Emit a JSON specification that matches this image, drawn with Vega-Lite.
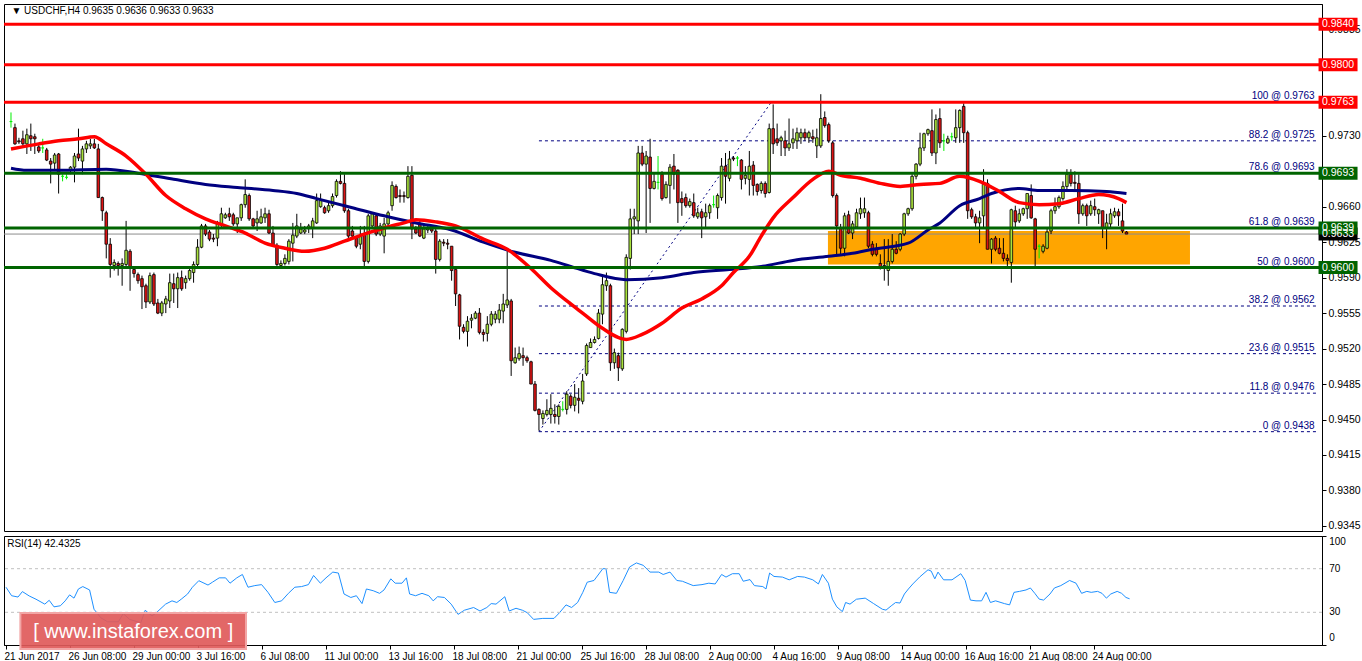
{
"$schema":"https://vega.github.io/schema/vega-lite/v6.json",
"padding":{"left":2,"top":3,"right":0,"bottom":0},
"background":"white",
"spacing":3,
"config":{"view":{"stroke":"black","strokeWidth":1},"axis":{"labelFont":"Liberation Sans","labelFontSize":10,"labelColor":"#000000","domainColor":"#000000","tickColor":"#000000","grid":false,"title":null,"labelOverlap":false},"text":{"font":"Liberation Sans"}},
"datasets":{
"candles":[
{"i":0,"o":0.9744,"h":0.9753,"l":0.9738,"c":0.9744},{"i":1,"o":0.9738,"h":0.9742,"l":0.9721,"c":0.9722},{"i":2,"o":0.9725,"h":0.9728,"l":0.9722,"c":0.9724},{"i":3,"o":0.9727,"h":0.9735,"l":0.972,"c":0.9722},{"i":4,"o":0.9722,"h":0.9737,"l":0.9712,"c":0.9731},{"i":5,"o":0.973,"h":0.9742,"l":0.9715,"c":0.9727},{"i":6,"o":0.9729,"h":0.9732,"l":0.9712,"c":0.9727},{"i":7,"o":0.9719,"h":0.9722,"l":0.9713,"c":0.9715},{"i":8,"o":0.9718,"h":0.9727,"l":0.9713,"c":0.9718},{"i":9,"o":0.9716,"h":0.9718,"l":0.9705,"c":0.9706},
{"i":10,"o":0.9705,"h":0.9708,"l":0.9683,"c":0.9702},{"i":11,"o":0.9703,"h":0.9713,"l":0.9697,"c":0.9711},{"i":12,"o":0.9712,"h":0.9713,"l":0.9673,"c":0.9692},{"i":13,"o":0.969,"h":0.9692,"l":0.9685,"c":0.969},{"i":14,"o":0.9689,"h":0.9692,"l":0.9687,"c":0.9689},{"i":15,"o":0.9696,"h":0.97,"l":0.9692,"c":0.9699},{"i":16,"o":0.9699,"h":0.9713,"l":0.9684,"c":0.971},{"i":17,"o":0.9712,"h":0.9737,"l":0.9705,"c":0.9708},{"i":18,"o":0.9705,"h":0.972,"l":0.9692,"c":0.9717},{"i":19,"o":0.9717,"h":0.9725,"l":0.9713,"c":0.9722},
{"i":20,"o":0.972,"h":0.9727,"l":0.9717,"c":0.9722},{"i":21,"o":0.9722,"h":0.9727,"l":0.9717,"c":0.9718},{"i":22,"o":0.9717,"h":0.9722,"l":0.9669,"c":0.9669},{"i":23,"o":0.9669,"h":0.967,"l":0.9646,"c":0.9656},{"i":24,"o":0.9654,"h":0.9656,"l":0.9609,"c":0.9623},{"i":25,"o":0.9623,"h":0.9629,"l":0.959,"c":0.9603},{"i":26,"o":0.9602,"h":0.9608,"l":0.9597,"c":0.9605},{"i":27,"o":0.9604,"h":0.9606,"l":0.9592,"c":0.9602},{"i":28,"o":0.9602,"h":0.9609,"l":0.9582,"c":0.9604},{"i":29,"o":0.9603,"h":0.9646,"l":0.9599,"c":0.9617},
{"i":30,"o":0.9616,"h":0.9618,"l":0.9577,"c":0.9599},{"i":31,"o":0.9598,"h":0.9599,"l":0.959,"c":0.9594},{"i":32,"o":0.9593,"h":0.9595,"l":0.9584,"c":0.9587},{"i":33,"o":0.9589,"h":0.9592,"l":0.9559,"c":0.9581},{"i":34,"o":0.9582,"h":0.9584,"l":0.956,"c":0.9566},{"i":35,"o":0.9566,"h":0.9595,"l":0.9564,"c":0.9592},{"i":36,"o":0.9593,"h":0.9595,"l":0.9562,"c":0.9564},{"i":37,"o":0.9565,"h":0.9569,"l":0.9554,"c":0.9555},{"i":38,"o":0.9555,"h":0.9567,"l":0.9552,"c":0.9565},{"i":39,"o":0.9564,"h":0.9572,"l":0.9555,"c":0.9569},
{"i":40,"o":0.9567,"h":0.9594,"l":0.956,"c":0.9585},{"i":41,"o":0.9584,"h":0.9594,"l":0.9565,"c":0.9579},{"i":42,"o":0.9579,"h":0.9595,"l":0.956,"c":0.959},{"i":43,"o":0.959,"h":0.9597,"l":0.9577,"c":0.9579},{"i":44,"o":0.9585,"h":0.9592,"l":0.9579,"c":0.9589},{"i":45,"o":0.9589,"h":0.9599,"l":0.9587,"c":0.9597},{"i":46,"o":0.9595,"h":0.9606,"l":0.9585,"c":0.9603},{"i":47,"o":0.9603,"h":0.9628,"l":0.9599,"c":0.962},{"i":48,"o":0.962,"h":0.9643,"l":0.9619,"c":0.9641},{"i":49,"o":0.9641,"h":0.9643,"l":0.9631,"c":0.9633},
{"i":50,"o":0.9635,"h":0.9637,"l":0.9626,"c":0.9628},{"i":51,"o":0.9629,"h":0.9633,"l":0.9625,"c":0.9628},{"i":52,"o":0.9629,"h":0.9646,"l":0.9621,"c":0.9643},{"i":53,"o":0.9643,"h":0.9659,"l":0.9639,"c":0.9653},{"i":54,"o":0.9649,"h":0.9654,"l":0.9648,"c":0.9652},{"i":55,"o":0.9653,"h":0.9659,"l":0.9646,"c":0.965},{"i":56,"o":0.9652,"h":0.9654,"l":0.9641,"c":0.9643},{"i":57,"o":0.9643,"h":0.9649,"l":0.9634,"c":0.9649},{"i":58,"o":0.9649,"h":0.9663,"l":0.9646,"c":0.9662},{"i":59,"o":0.9662,"h":0.9687,"l":0.9659,"c":0.9672},
{"i":60,"o":0.9671,"h":0.9673,"l":0.9646,"c":0.9648},{"i":61,"o":0.9648,"h":0.9649,"l":0.9638,"c":0.9641},{"i":62,"o":0.9644,"h":0.9656,"l":0.9636,"c":0.9648},{"i":63,"o":0.9644,"h":0.9658,"l":0.9643,"c":0.965},{"i":64,"o":0.9649,"h":0.9659,"l":0.9644,"c":0.9653},{"i":65,"o":0.9653,"h":0.9657,"l":0.9633,"c":0.9634},{"i":66,"o":0.9634,"h":0.9641,"l":0.9621,"c":0.9622},{"i":67,"o":0.9622,"h":0.9624,"l":0.9601,"c":0.9603},{"i":68,"o":0.9602,"h":0.9607,"l":0.9601,"c":0.9604},{"i":69,"o":0.9604,"h":0.9613,"l":0.9602,"c":0.9609},
{"i":70,"o":0.9606,"h":0.9628,"l":0.9603,"c":0.9626},{"i":71,"o":0.9624,"h":0.9644,"l":0.9606,"c":0.9632},{"i":72,"o":0.9631,"h":0.9653,"l":0.9629,"c":0.9641},{"i":73,"o":0.9634,"h":0.9644,"l":0.9633,"c":0.9638},{"i":74,"o":0.9635,"h":0.9641,"l":0.9633,"c":0.9637},{"i":75,"o":0.9639,"h":0.9643,"l":0.9634,"c":0.9641},{"i":76,"o":0.9639,"h":0.9649,"l":0.9629,"c":0.9646},{"i":77,"o":0.9644,"h":0.9673,"l":0.9643,"c":0.9666},{"i":78,"o":0.966,"h":0.9673,"l":0.9659,"c":0.9666},{"i":79,"o":0.9659,"h":0.9661,"l":0.9653,"c":0.9654},
{"i":80,"o":0.9656,"h":0.9664,"l":0.9654,"c":0.9661},{"i":81,"o":0.9661,"h":0.9673,"l":0.9659,"c":0.967},{"i":82,"o":0.9671,"h":0.9687,"l":0.9669,"c":0.9685},{"i":83,"o":0.9685,"h":0.9695,"l":0.9682,"c":0.9683},{"i":84,"o":0.9683,"h":0.9692,"l":0.9654,"c":0.9656},{"i":85,"o":0.9656,"h":0.9658,"l":0.9628,"c":0.9631},{"i":86,"o":0.9636,"h":0.9641,"l":0.9629,"c":0.9631},{"i":87,"o":0.9629,"h":0.9631,"l":0.9619,"c":0.9621},{"i":88,"o":0.9623,"h":0.9641,"l":0.9618,"c":0.9631},{"i":89,"o":0.9633,"h":0.9641,"l":0.9601,"c":0.9606},
{"i":90,"o":0.9606,"h":0.9653,"l":0.9604,"c":0.9651},{"i":91,"o":0.9641,"h":0.9654,"l":0.9639,"c":0.9653},{"i":92,"o":0.9651,"h":0.9653,"l":0.9631,"c":0.9633},{"i":93,"o":0.9633,"h":0.9644,"l":0.9631,"c":0.9641},{"i":94,"o":0.9631,"h":0.9649,"l":0.9614,"c":0.9643},{"i":95,"o":0.9643,"h":0.9656,"l":0.9639,"c":0.9654},{"i":96,"o":0.9661,"h":0.9685,"l":0.9656,"c":0.9681},{"i":97,"o":0.968,"h":0.9682,"l":0.9668,"c":0.9669},{"i":98,"o":0.9671,"h":0.9677,"l":0.9664,"c":0.967},{"i":99,"o":0.9671,"h":0.9675,"l":0.9664,"c":0.967},
{"i":100,"o":0.9669,"h":0.97,"l":0.9668,"c":0.969},{"i":101,"o":0.9691,"h":0.97,"l":0.9628,"c":0.9638},{"i":102,"o":0.9638,"h":0.9641,"l":0.9633,"c":0.9634},{"i":103,"o":0.9643,"h":0.9646,"l":0.963,"c":0.9631},{"i":104,"o":0.9629,"h":0.9641,"l":0.9628,"c":0.9638},{"i":105,"o":0.9637,"h":0.9641,"l":0.9634,"c":0.9638},{"i":106,"o":0.9638,"h":0.9641,"l":0.9634,"c":0.9636},{"i":107,"o":0.9636,"h":0.9639,"l":0.9594,"c":0.9608},{"i":108,"o":0.9608,"h":0.9628,"l":0.9606,"c":0.9626},{"i":109,"o":0.9625,"h":0.9628,"l":0.9621,"c":0.9624},
{"i":110,"o":0.9624,"h":0.9628,"l":0.9618,"c":0.9623},{"i":111,"o":0.9621,"h":0.9621,"l":0.9587,"c":0.9597},{"i":112,"o":0.9598,"h":0.9598,"l":0.9562,"c":0.9574},{"i":113,"o":0.9573,"h":0.9574,"l":0.9529,"c":0.9542},{"i":114,"o":0.9541,"h":0.9544,"l":0.9535,"c":0.9537},{"i":115,"o":0.9537,"h":0.9552,"l":0.9522,"c":0.9547},{"i":116,"o":0.9548,"h":0.9554,"l":0.954,"c":0.955},{"i":117,"o":0.955,"h":0.9557,"l":0.9549,"c":0.9555},{"i":118,"o":0.9555,"h":0.956,"l":0.9534,"c":0.9536},{"i":119,"o":0.9536,"h":0.9539,"l":0.9527,"c":0.9534},
{"i":120,"o":0.9535,"h":0.9552,"l":0.9527,"c":0.9544},{"i":121,"o":0.9544,"h":0.9557,"l":0.9542,"c":0.9554},{"i":122,"o":0.9549,"h":0.9557,"l":0.9545,"c":0.9554},{"i":123,"o":0.9549,"h":0.9564,"l":0.9545,"c":0.9558},{"i":124,"o":0.9557,"h":0.9574,"l":0.9545,"c":0.9564},{"i":125,"o":0.9563,"h":0.9616,"l":0.956,"c":0.9568},{"i":126,"o":0.9567,"h":0.9569,"l":0.9493,"c":0.9508},{"i":127,"o":0.9506,"h":0.9521,"l":0.9505,"c":0.9511},{"i":128,"o":0.951,"h":0.9522,"l":0.9508,"c":0.9515},{"i":129,"o":0.9513,"h":0.9521,"l":0.9503,"c":0.9511},
{"i":130,"o":0.9511,"h":0.9513,"l":0.9506,"c":0.9508},{"i":131,"o":0.9507,"h":0.9508,"l":0.9485,"c":0.9485},{"i":132,"o":0.9485,"h":0.9488,"l":0.9458,"c":0.9459},{"i":133,"o":0.946,"h":0.9461,"l":0.9439,"c":0.9455},{"i":134,"o":0.9451,"h":0.9459,"l":0.9445,"c":0.9456},{"i":135,"o":0.9455,"h":0.947,"l":0.9453,"c":0.9459},{"i":136,"o":0.9455,"h":0.9475,"l":0.9446,"c":0.9461},{"i":137,"o":0.9455,"h":0.9465,"l":0.9446,"c":0.9453},{"i":138,"o":0.9453,"h":0.9465,"l":0.9445,"c":0.9463},{"i":139,"o":0.946,"h":0.9468,"l":0.9458,"c":0.946},
{"i":140,"o":0.946,"h":0.9478,"l":0.9455,"c":0.9475},{"i":141,"o":0.9473,"h":0.9475,"l":0.9461,"c":0.9464},{"i":142,"o":0.9464,"h":0.9485,"l":0.9458,"c":0.9472},{"i":143,"o":0.9471,"h":0.9481,"l":0.9456,"c":0.9469},{"i":144,"o":0.9468,"h":0.9495,"l":0.9465,"c":0.9488},{"i":145,"o":0.9495,"h":0.9525,"l":0.9493,"c":0.9523},{"i":146,"o":0.9521,"h":0.953,"l":0.9521,"c":0.9526},{"i":147,"o":0.9526,"h":0.9532,"l":0.9525,"c":0.9529},{"i":148,"o":0.953,"h":0.9559,"l":0.9529,"c":0.9555},{"i":149,"o":0.9554,"h":0.9592,"l":0.9544,"c":0.9583},
{"i":150,"o":0.9582,"h":0.9595,"l":0.9577,"c":0.9587},{"i":151,"o":0.9582,"h":0.9584,"l":0.9498,"c":0.9506},{"i":152,"o":0.9506,"h":0.952,"l":0.95,"c":0.9516},{"i":153,"o":0.9513,"h":0.9516,"l":0.9488,"c":0.9501},{"i":154,"o":0.95,"h":0.954,"l":0.9498,"c":0.9539},{"i":155,"o":0.9537,"h":0.9613,"l":0.9535,"c":0.961},{"i":156,"o":0.9609,"h":0.9658,"l":0.9598,"c":0.9648},{"i":157,"o":0.9648,"h":0.9658,"l":0.9633,"c":0.965},{"i":158,"o":0.9646,"h":0.972,"l":0.9633,"c":0.9713},{"i":159,"o":0.9713,"h":0.972,"l":0.97,"c":0.9702},
{"i":160,"o":0.9702,"h":0.9715,"l":0.9634,"c":0.971},{"i":161,"o":0.9709,"h":0.9727,"l":0.9644,"c":0.9678},{"i":162,"o":0.9678,"h":0.9693,"l":0.9677,"c":0.9685},{"i":163,"o":0.9684,"h":0.971,"l":0.9677,"c":0.9684},{"i":164,"o":0.9692,"h":0.9695,"l":0.9666,"c":0.9668},{"i":165,"o":0.9669,"h":0.9685,"l":0.9668,"c":0.9682},{"i":166,"o":0.9681,"h":0.9702,"l":0.9663,"c":0.9699},{"i":167,"o":0.97,"h":0.9712,"l":0.9677,"c":0.9692},{"i":168,"o":0.9696,"h":0.9697,"l":0.9644,"c":0.9664},{"i":169,"o":0.9668,"h":0.9675,"l":0.9651,"c":0.9664},
{"i":170,"o":0.9669,"h":0.9673,"l":0.9659,"c":0.9661},{"i":171,"o":0.9661,"h":0.9668,"l":0.9659,"c":0.9665},{"i":172,"o":0.9664,"h":0.9673,"l":0.9649,"c":0.9651},{"i":173,"o":0.965,"h":0.9659,"l":0.9648,"c":0.9654},{"i":174,"o":0.9655,"h":0.9658,"l":0.9629,"c":0.9649},{"i":175,"o":0.965,"h":0.9663,"l":0.9639,"c":0.9654},{"i":176,"o":0.9654,"h":0.9663,"l":0.9648,"c":0.9661},{"i":177,"o":0.9662,"h":0.9671,"l":0.9659,"c":0.9662},{"i":178,"o":0.9659,"h":0.9673,"l":0.9648,"c":0.9671},{"i":179,"o":0.9669,"h":0.9708,"l":0.9666,"c":0.97},
{"i":180,"o":0.97,"h":0.9713,"l":0.9663,"c":0.969},{"i":181,"o":0.9688,"h":0.9715,"l":0.9685,"c":0.9707},{"i":182,"o":0.9708,"h":0.971,"l":0.9705,"c":0.9707},{"i":183,"o":0.9708,"h":0.971,"l":0.97,"c":0.9708},{"i":184,"o":0.9706,"h":0.9707,"l":0.9677,"c":0.9687},{"i":185,"o":0.9688,"h":0.97,"l":0.9682,"c":0.9691},{"i":186,"o":0.9687,"h":0.9715,"l":0.9671,"c":0.97},{"i":187,"o":0.9701,"h":0.9705,"l":0.9671,"c":0.9681},{"i":188,"o":0.9682,"h":0.9683,"l":0.9671,"c":0.9675},{"i":189,"o":0.9676,"h":0.9685,"l":0.9673,"c":0.9683},
{"i":190,"o":0.9683,"h":0.9685,"l":0.9669,"c":0.9673},{"i":191,"o":0.9674,"h":0.9742,"l":0.9673,"c":0.9737},{"i":192,"o":0.9737,"h":0.9761,"l":0.9712,"c":0.9722},{"i":193,"o":0.9727,"h":0.9742,"l":0.972,"c":0.9723},{"i":194,"o":0.9725,"h":0.973,"l":0.971,"c":0.9728},{"i":195,"o":0.9725,"h":0.9735,"l":0.971,"c":0.9718},{"i":196,"o":0.9718,"h":0.9747,"l":0.9715,"c":0.9722},{"i":197,"o":0.9723,"h":0.9737,"l":0.9717,"c":0.9727},{"i":198,"o":0.9725,"h":0.9738,"l":0.9717,"c":0.9733},{"i":199,"o":0.9728,"h":0.9737,"l":0.9722,"c":0.9733},
{"i":200,"o":0.9733,"h":0.9737,"l":0.9725,"c":0.9728},{"i":201,"o":0.9728,"h":0.9735,"l":0.9723,"c":0.9733},{"i":202,"o":0.9729,"h":0.9736,"l":0.9723,"c":0.9727},{"i":203,"o":0.972,"h":0.9737,"l":0.9708,"c":0.9728},{"i":204,"o":0.972,"h":0.9771,"l":0.9718,"c":0.9747},{"i":205,"o":0.9748,"h":0.9754,"l":0.9738,"c":0.974},{"i":206,"o":0.9741,"h":0.9743,"l":0.9723,"c":0.9725},{"i":207,"o":0.9723,"h":0.9725,"l":0.9669,"c":0.9671},{"i":208,"o":0.9671,"h":0.9673,"l":0.9611,"c":0.9641},{"i":209,"o":0.9639,"h":0.9643,"l":0.9613,"c":0.9619},
{"i":210,"o":0.9619,"h":0.9654,"l":0.9611,"c":0.9651},{"i":211,"o":0.9652,"h":0.9656,"l":0.9633,"c":0.9634},{"i":212,"o":0.9634,"h":0.9646,"l":0.9628,"c":0.9643},{"i":213,"o":0.964,"h":0.9658,"l":0.9638,"c":0.9654},{"i":214,"o":0.9653,"h":0.9669,"l":0.9648,"c":0.9658},{"i":215,"o":0.9654,"h":0.9669,"l":0.9649,"c":0.9658},{"i":216,"o":0.9654,"h":0.9656,"l":0.9619,"c":0.9621},{"i":217,"o":0.9623,"h":0.9626,"l":0.9611,"c":0.9613},{"i":218,"o":0.9619,"h":0.9624,"l":0.9611,"c":0.9613},{"i":219,"o":0.9604,"h":0.9613,"l":0.9598,"c":0.9601},
{"i":220,"o":0.9602,"h":0.9628,"l":0.9587,"c":0.96},{"i":221,"o":0.9597,"h":0.9628,"l":0.9582,"c":0.9606},{"i":222,"o":0.9606,"h":0.9633,"l":0.9604,"c":0.9618},{"i":223,"o":0.9618,"h":0.9626,"l":0.9613,"c":0.9614},{"i":224,"o":0.9618,"h":0.9634,"l":0.9616,"c":0.9633},{"i":225,"o":0.9633,"h":0.9654,"l":0.9631,"c":0.9653},{"i":226,"o":0.9653,"h":0.9659,"l":0.9651,"c":0.9658},{"i":227,"o":0.9658,"h":0.9692,"l":0.9656,"c":0.969},{"i":228,"o":0.969,"h":0.9703,"l":0.9687,"c":0.9702},{"i":229,"o":0.9702,"h":0.9733,"l":0.97,"c":0.9718},
{"i":230,"o":0.9718,"h":0.9733,"l":0.9715,"c":0.9732},{"i":231,"o":0.9732,"h":0.9737,"l":0.973,"c":0.9736},{"i":232,"o":0.9735,"h":0.9756,"l":0.971,"c":0.9713},{"i":233,"o":0.9713,"h":0.9751,"l":0.9702,"c":0.9746},{"i":234,"o":0.9747,"h":0.9757,"l":0.9718,"c":0.9723},{"i":235,"o":0.9725,"h":0.9732,"l":0.9715,"c":0.9725},{"i":236,"o":0.9723,"h":0.973,"l":0.9722,"c":0.9727},{"i":237,"o":0.9729,"h":0.9733,"l":0.9725,"c":0.9729},{"i":238,"o":0.9728,"h":0.9756,"l":0.9723,"c":0.9738},{"i":239,"o":0.9738,"h":0.9756,"l":0.9723,"c":0.9755},
{"i":240,"o":0.9759,"h":0.9762,"l":0.9723,"c":0.9733},{"i":241,"o":0.9733,"h":0.9735,"l":0.9648,"c":0.9656},{"i":242,"o":0.9657,"h":0.9659,"l":0.9648,"c":0.965},{"i":243,"o":0.965,"h":0.9653,"l":0.9639,"c":0.9644},{"i":244,"o":0.9644,"h":0.9656,"l":0.9624,"c":0.9649},{"i":245,"o":0.9651,"h":0.9697,"l":0.9639,"c":0.9682},{"i":246,"o":0.9683,"h":0.9687,"l":0.9618,"c":0.9618},{"i":247,"o":0.9618,"h":0.9629,"l":0.9604,"c":0.9628},{"i":248,"o":0.9629,"h":0.9631,"l":0.9616,"c":0.9618},{"i":249,"o":0.9619,"h":0.9629,"l":0.9613,"c":0.9614},
{"i":250,"o":0.9614,"h":0.9629,"l":0.9606,"c":0.9609},{"i":251,"o":0.9609,"h":0.9613,"l":0.9601,"c":0.9607},{"i":252,"o":0.9605,"h":0.9658,"l":0.9585,"c":0.9657},{"i":253,"o":0.9656,"h":0.9661,"l":0.9639,"c":0.9645},{"i":254,"o":0.9646,"h":0.9658,"l":0.9644,"c":0.9653},{"i":255,"o":0.9653,"h":0.9659,"l":0.9651,"c":0.9658},{"i":256,"o":0.9658,"h":0.9673,"l":0.9648,"c":0.9673},{"i":257,"o":0.9671,"h":0.9682,"l":0.9648,"c":0.9649},{"i":258,"o":0.9648,"h":0.9649,"l":0.9601,"c":0.9618},{"i":259,"o":0.9621,"h":0.9623,"l":0.9609,"c":0.9621},
{"i":260,"o":0.9616,"h":0.9623,"l":0.9614,"c":0.9621},{"i":261,"o":0.9619,"h":0.9638,"l":0.9618,"c":0.9635},{"i":262,"o":0.9636,"h":0.9658,"l":0.9633,"c":0.9656},{"i":263,"o":0.9656,"h":0.9669,"l":0.9653,"c":0.966},{"i":264,"o":0.966,"h":0.9671,"l":0.9658,"c":0.9669},{"i":265,"o":0.9668,"h":0.9685,"l":0.9666,"c":0.968},{"i":266,"o":0.968,"h":0.9697,"l":0.9677,"c":0.9692},{"i":267,"o":0.9692,"h":0.9697,"l":0.968,"c":0.9683},{"i":268,"o":0.9684,"h":0.9695,"l":0.9675,"c":0.9683},{"i":269,"o":0.9683,"h":0.9692,"l":0.9643,"c":0.9653},
{"i":270,"o":0.9653,"h":0.9663,"l":0.9651,"c":0.9661},{"i":271,"o":0.9661,"h":0.9663,"l":0.9641,"c":0.9651},{"i":272,"o":0.9653,"h":0.9666,"l":0.9651,"c":0.9661},{"i":273,"o":0.966,"h":0.9668,"l":0.9651,"c":0.9657},{"i":274,"o":0.9653,"h":0.9658,"l":0.9643,"c":0.9657},{"i":275,"o":0.9656,"h":0.9656,"l":0.9629,"c":0.9639},{"i":276,"o":0.9639,"h":0.9653,"l":0.9618,"c":0.9644},{"i":277,"o":0.9643,"h":0.9658,"l":0.9639,"c":0.9653},{"i":278,"o":0.9651,"h":0.9659,"l":0.9649,"c":0.9655},{"i":279,"o":0.9655,"h":0.9658,"l":0.9641,"c":0.9651},
{"i":280,"o":0.9646,"h":0.9663,"l":0.9634,"c":0.9636},{"i":281,"o":0.9635,"h":0.9636,"l":0.9633,"c":0.9633}
],
"ma":[
{"s":"fast","i":0,"v":0.9717},{"s":"fast","i":7,"v":0.9722},{"s":"fast","i":12,"v":0.9725},{"s":"fast","i":17,"v":0.9727},{"s":"fast","i":21,"v":0.9729},{"s":"fast","i":24,"v":0.9722},{"s":"fast","i":29,"v":0.971},{"s":"fast","i":34,"v":0.9692},{"s":"fast","i":39,"v":0.9671},{"s":"fast","i":44,"v":0.9658},{"s":"fast","i":49,"v":0.9648},{"s":"fast","i":54,"v":0.9641},{"s":"fast","i":59,"v":0.9634},{"s":"fast","i":64,"v":0.9624},{"s":"fast","i":69,"v":0.9619},{"s":"fast","i":74,"v":0.9616},{"s":"fast","i":79,"v":0.9619},{"s":"fast","i":84,"v":0.9626},{"s":"fast","i":89,"v":0.9633},{"s":"fast","i":94,"v":0.9639},{"s":"fast","i":99,"v":0.9644},{"s":"fast","i":102,"v":0.9647},{"s":"fast","i":107,"v":0.9645},{"s":"fast","i":112,"v":0.9641},{"s":"fast","i":119,"v":0.9628},{"s":"fast","i":125,"v":0.9618},{"s":"fast","i":131,"v":0.9599},{"s":"fast","i":136,"v":0.958},{"s":"fast","i":141,"v":0.9564},{"s":"fast","i":144,"v":0.9555},{"s":"fast","i":149,"v":0.954},{"s":"fast","i":155,"v":0.9529},{"s":"fast","i":159,"v":0.9534},{"s":"fast","i":164,"v":0.9545},{"s":"fast","i":169,"v":0.956},{"s":"fast","i":174,"v":0.9569},{"s":"fast","i":179,"v":0.9582},{"s":"fast","i":182,"v":0.9595},{"s":"fast","i":186,"v":0.9611},{"s":"fast","i":189,"v":0.9631},{"s":"fast","i":192,"v":0.9649},{"s":"fast","i":197,"v":0.9669},{"s":"fast","i":202,"v":0.9687},{"s":"fast","i":206,"v":0.9695},{"s":"fast","i":209,"v":0.9691},{"s":"fast","i":214,"v":0.9688},{"s":"fast","i":219,"v":0.9683},{"s":"fast","i":224,"v":0.968},{"s":"fast","i":229,"v":0.9682},{"s":"fast","i":234,"v":0.9683},{"s":"fast","i":239,"v":0.969},{"s":"fast","i":244,"v":0.9685},{"s":"fast","i":249,"v":0.9675},{"s":"fast","i":254,"v":0.9664},{"s":"fast","i":259,"v":0.9662},{"s":"fast","i":264,"v":0.9663},{"s":"fast","i":269,"v":0.9668},{"s":"fast","i":274,"v":0.9672},{"s":"fast","i":279,"v":0.9668},{"s":"fast","i":281,"v":0.9664},
{"s":"slow","i":0,"v":0.9698},{"s":"slow","i":4,"v":0.9696},{"s":"slow","i":12,"v":0.9696},{"s":"slow","i":24,"v":0.9697},{"s":"slow","i":32,"v":0.9693},{"s":"slow","i":41,"v":0.9687},{"s":"slow","i":49,"v":0.9682},{"s":"slow","i":57,"v":0.9679},{"s":"slow","i":66,"v":0.9676},{"s":"slow","i":72,"v":0.9673},{"s":"slow","i":77,"v":0.9668},{"s":"slow","i":86,"v":0.9659},{"s":"slow","i":94,"v":0.9651},{"s":"slow","i":102,"v":0.9644},{"s":"slow","i":111,"v":0.9637},{"s":"slow","i":119,"v":0.9625},{"s":"slow","i":127,"v":0.9615},{"s":"slow","i":136,"v":0.9607},{"s":"slow","i":141,"v":0.9601},{"s":"slow","i":147,"v":0.9594},{"s":"slow","i":155,"v":0.9588},{"s":"slow","i":164,"v":0.959},{"s":"slow","i":172,"v":0.9595},{"s":"slow","i":181,"v":0.9598},{"s":"slow","i":189,"v":0.9601},{"s":"slow","i":197,"v":0.9607},{"s":"slow","i":206,"v":0.9611},{"s":"slow","i":212,"v":0.9614},{"s":"slow","i":217,"v":0.9618},{"s":"slow","i":226,"v":0.9624},{"s":"slow","i":231,"v":0.9637},{"s":"slow","i":234,"v":0.9644},{"s":"slow","i":239,"v":0.9661},{"s":"slow","i":244,"v":0.9668},{"s":"slow","i":247,"v":0.9673},{"s":"slow","i":254,"v":0.9678},{"s":"slow","i":259,"v":0.9676},{"s":"slow","i":267,"v":0.9676},{"s":"slow","i":276,"v":0.9675},{"s":"slow","i":281,"v":0.9673}
],
"rsi":[
{"i":0,"v":53},{"i":1.4,"v":45.2},{"i":3,"v":44},{"i":4.1,"v":49},{"i":5.8,"v":45},{"i":7.5,"v":42},{"i":9.7,"v":37.5},{"i":10.8,"v":41},{"i":12,"v":35},{"i":13.6,"v":36},{"i":14.8,"v":40.5},{"i":15.9,"v":46},{"i":17,"v":43},{"i":18.1,"v":51.4},{"i":19.2,"v":53.6},{"i":20.9,"v":50.5},{"i":22,"v":32.8},{"i":23.7,"v":25},{"i":25.4,"v":21.3},{"i":28.1,"v":21.3},{"i":29.3,"v":28.8},{"i":30.9,"v":23.5},{"i":33.7,"v":20.4},{"i":34.8,"v":31.9},{"i":36.5,"v":26.6},{"i":37.6,"v":29.7},{"i":39.9,"v":37.5},{"i":41.5,"v":40.5},{"i":42.7,"v":39},{"i":43.8,"v":42},{"i":45.4,"v":46.8},{"i":46.6,"v":53},{"i":48.2,"v":59},{"i":50.5,"v":55},{"i":51.6,"v":57.6},{"i":53.3,"v":61.6},{"i":54.9,"v":61.6},{"i":56,"v":56.7},{"i":57.7,"v":61.6},{"i":59.1,"v":64.7},{"i":60.5,"v":53},{"i":62.2,"v":54.5},{"i":63.9,"v":55.4},{"i":65.5,"v":48.3},{"i":67.2,"v":39},{"i":68.9,"v":40.5},{"i":70.6,"v":47.4},{"i":72.2,"v":53},{"i":73.9,"v":53.6},{"i":75.6,"v":55.4},{"i":76.9,"v":63.8},{"i":78.6,"v":56.7},{"i":80,"v":61.6},{"i":81.7,"v":66.9},{"i":83.1,"v":66},{"i":84.5,"v":46.8},{"i":86.2,"v":43.6},{"i":87.6,"v":45.2},{"i":89,"v":38},{"i":90.1,"v":51.4},{"i":91.8,"v":49.8},{"i":93.4,"v":47.4},{"i":94.5,"v":50.5},{"i":96.2,"v":60.7},{"i":97.3,"v":56.7},{"i":99,"v":56.7},{"i":100.1,"v":61.6},{"i":100.9,"v":46.8},{"i":102.4,"v":45.2},{"i":104,"v":47.4},{"i":105.7,"v":45.2},{"i":106.8,"v":40.5},{"i":107.9,"v":44.3},{"i":109.6,"v":43.6},{"i":111.3,"v":37.5},{"i":113,"v":28.1},{"i":114.6,"v":31.9},{"i":116.9,"v":34.4},{"i":118.5,"v":31.2},{"i":120.2,"v":34.4},{"i":121.3,"v":38},{"i":122.5,"v":37.5},{"i":124.7,"v":44.3},{"i":125.8,"v":31.2},{"i":127.5,"v":33.7},{"i":129.1,"v":31.9},{"i":130.3,"v":29.7},{"i":131.9,"v":23.5},{"i":134.2,"v":24.4},{"i":137,"v":24.4},{"i":138.4,"v":29.7},{"i":140,"v":36.8},{"i":141.4,"v":34.4},{"i":142.9,"v":39},{"i":144.2,"v":48.3},{"i":145.3,"v":57.6},{"i":147,"v":59.2},{"i":149.2,"v":70},{"i":150,"v":70},{"i":150.9,"v":48.3},{"i":152.6,"v":47.4},{"i":154.3,"v":59.2},{"i":155.9,"v":71.6},{"i":157.6,"v":75.3},{"i":159.3,"v":73.1},{"i":161,"v":66.9},{"i":163.2,"v":66.9},{"i":164.3,"v":64.7},{"i":166,"v":66.9},{"i":167.7,"v":59.2},{"i":169.1,"v":58.5},{"i":171.8,"v":54.5},{"i":174,"v":55.4},{"i":175.7,"v":56.7},{"i":177.3,"v":56},{"i":178.9,"v":64.7},{"i":180,"v":62.3},{"i":181.6,"v":65.4},{"i":183.3,"v":65.4},{"i":184.3,"v":58.5},{"i":186,"v":60},{"i":187.1,"v":54.5},{"i":189.2,"v":53.6},{"i":190,"v":51.4},{"i":190.9,"v":66},{"i":192,"v":62.9},{"i":194.1,"v":62.3},{"i":195.8,"v":59.8},{"i":197.9,"v":62.9},{"i":199.6,"v":62.3},{"i":201.7,"v":59.8},{"i":203.1,"v":56},{"i":204.1,"v":64.7},{"i":205.6,"v":56.7},{"i":206.6,"v":42.1},{"i":207.7,"v":35},{"i":209.1,"v":30.6},{"i":209.9,"v":39},{"i":211,"v":37.5},{"i":212.6,"v":42},{"i":214.8,"v":43},{"i":216.9,"v":38},{"i":219.1,"v":32.8},{"i":220,"v":32},{"i":221.3,"v":35.9},{"i":222.4,"v":39},{"i":223.5,"v":38.5},{"i":224.6,"v":46.8},{"i":225.6,"v":51.4},{"i":226.7,"v":56},{"i":228.4,"v":62.3},{"i":230.5,"v":69},{"i":231.3,"v":67.8},{"i":232.2,"v":60.7},{"i":233,"v":66.9},{"i":234.4,"v":59.8},{"i":236.5,"v":59.8},{"i":238.7,"v":65.4},{"i":239.8,"v":59.2},{"i":241.1,"v":41.2},{"i":242.5,"v":40.5},{"i":243.9,"v":40.5},{"i":245,"v":48.3},{"i":246.1,"v":39},{"i":247.4,"v":40.5},{"i":249.6,"v":38},{"i":250.9,"v":36.8},{"i":252,"v":48.3},{"i":253.4,"v":49.2},{"i":255,"v":50.5},{"i":256.1,"v":52.3},{"i":257.2,"v":47.4},{"i":258.3,"v":42.1},{"i":259.4,"v":41.2},{"i":261,"v":46.8},{"i":262.1,"v":52.3},{"i":263.7,"v":54.5},{"i":265.9,"v":59.2},{"i":267.5,"v":56.7},{"i":268.9,"v":47.4},{"i":270.2,"v":49.2},{"i":271.3,"v":48.3},{"i":272.9,"v":49.2},{"i":274,"v":47.4},{"i":275.1,"v":43},{"i":276.2,"v":46.8},{"i":277.8,"v":49.2},{"i":278.9,"v":47.4},{"i":280,"v":43.6},{"i":280.9,"v":42.4}
],
"levels":[{"p":0.9633,"k":"b"},{"p":0.984,"k":"r"},{"p":0.98,"k":"r"},{"p":0.9763,"k":"r"},{"p":0.9693,"k":"g"},{"p":0.9639,"k":"g"},{"p":0.96,"k":"g"}],
"fib":[{"p":0.9763,"t":"100 @ 0.9763"},{"p":0.9725,"t":"88.2 @ 0.9725"},{"p":0.9693,"t":"78.6 @ 0.9693"},{"p":0.9639,"t":"61.8 @ 0.9639"},{"p":0.96,"t":"50 @ 0.9600"},{"p":0.9562,"t":"38.2 @ 0.9562"},{"p":0.9515,"t":"23.6 @ 0.9515"},{"p":0.9476,"t":"11.8 @ 0.9476"},{"p":0.9438,"t":"0 @ 0.9438"}]
},
"vconcat":[
{"width":1318,"height":527,
"layer":[
{"data":{"values":[{"a":205.8,"b":297,"p1":0.9603,"p2":0.9636}]},"mark":{"type":"rect","fill":"#ffa500"},
 "encoding":{"x":{"field":"a","type":"quantitative","scale":{"domain":[-0.5,329],"nice":false,"zero":false},"axis":null},"x2":{"field":"b"},
 "y":{"field":"p1","type":"quantitative","scale":{"domain":[0.934,0.986],"nice":false,"zero":false},
   "axis":{"orient":"right","values":[0.9345,0.938,0.9415,0.945,0.9485,0.952,0.9555,0.959,0.9625,0.966,0.973,0.9835],"format":".4f","tickSize":4,"labelPadding":2,"labelFontSize":10.5,"labelOverlap":false,"labelBound":false}},
 "y2":{"field":"p2"}}},
{"data":{"values":[{"p":0.9633}]},"mark":{"type":"rule","stroke":"#8c8c8c","strokeWidth":1},"encoding":{"y":{"field":"p","type":"quantitative"}}},
{"data":{"name":"fib"},"mark":{"type":"rule","stroke":"#000080","strokeWidth":1,"strokeDash":[3,3]},
 "encoding":{"x":{"datum":133,"type":"quantitative","axis":null},"x2":{"datum":329},"y":{"field":"p","type":"quantitative"}}},
{"data":{"values":[{"a":133,"b":191.5,"p1":0.9438,"p2":0.9763}]},"mark":{"type":"rule","stroke":"#000080","strokeWidth":1,"strokeDash":[2,3]},
 "encoding":{"x":{"field":"a","type":"quantitative","axis":null},"x2":{"field":"b"},"y":{"field":"p1","type":"quantitative"},"y2":{"field":"p2"}}},
{"data":{"name":"candles"},"mark":{"type":"rule","strokeWidth":1},
 "encoding":{"x":{"field":"i","type":"quantitative","axis":null},"y":{"field":"l","type":"quantitative"},"y2":{"field":"h"},
 "stroke":{"condition":{"test":"datum.o == datum.c","value":"#00ee00"},"value":"#000000"}}},
{"data":{"name":"candles"},"mark":{"type":"bar","size":2.6,"strokeWidth":0.8},
 "encoding":{"x":{"field":"i","type":"quantitative","axis":null},"y":{"field":"o","type":"quantitative"},"y2":{"field":"c"},
 "fill":{"condition":{"test":"datum.c >= datum.o","value":"#a8e23c"},"value":"#dc1414"},
 "stroke":{"condition":{"test":"datum.o == datum.c","value":"#00ee00"},"value":"#000000"}}},
{"data":{"name":"ma"},"transform":[{"filter":"datum.s == 'slow'"}],"mark":{"type":"line","stroke":"#000080","strokeWidth":3,"interpolate":"monotone"},
 "encoding":{"x":{"field":"i","type":"quantitative","axis":null},"y":{"field":"v","type":"quantitative"}}},
{"data":{"name":"ma"},"transform":[{"filter":"datum.s == 'fast'"}],"mark":{"type":"line","stroke":"#ff0000","strokeWidth":3.5,"interpolate":"monotone"},
 "encoding":{"x":{"field":"i","type":"quantitative","axis":null},"y":{"field":"v","type":"quantitative"}}},
{"data":{"name":"levels"},"transform":[{"filter":"datum.k != 'b'"}],"mark":{"type":"rule","strokeWidth":3},
 "encoding":{"y":{"field":"p","type":"quantitative"},"stroke":{"field":"k","type":"nominal","scale":{"domain":["r","g","b"],"range":["#ff0000","#006400","#000000"]},"legend":null}}},
{"data":{"name":"fib"},"mark":{"type":"text","align":"right","baseline":"bottom","dy":-1,"fontSize":10,"fill":"#000080"},
 "encoding":{"x":{"datum":328.4,"type":"quantitative","axis":null},"y":{"field":"p","type":"quantitative"},"text":{"field":"t"}}},
{"data":{"name":"levels"},"mark":{"type":"tick","orient":"horizontal","thickness":13,"size":39,"opacity":1},
 "encoding":{"x":{"datum":334.3,"type":"quantitative","axis":null},"y":{"field":"p","type":"quantitative"},"color":{"field":"k","type":"nominal","scale":{"domain":["r","g","b"],"range":["#ff0000","#006400","#000000"]},"legend":null}}},
{"data":{"name":"levels"},"mark":{"type":"text","align":"center","baseline":"middle","fontSize":10.5,"fill":"#ffffff"},
 "encoding":{"x":{"datum":334.3,"type":"quantitative","axis":null},"y":{"field":"p","type":"quantitative"},"text":{"field":"p","type":"quantitative","format":".4f"}}},
{"data":{"values":[{"t":"▼ USDCHF,H4  0.9635 0.9636 0.9633 0.9633"}]},"mark":{"type":"text","align":"left","baseline":"middle","fontSize":10,"fill":"#000000"},
 "encoding":{"x":{"datum":0.1,"type":"quantitative","axis":null},"y":{"datum":0.98535,"type":"quantitative"},"text":{"field":"t"}}}
]},
{"width":1318,"height":109,
"layer":[
{"data":{"name":"rsi"},"mark":{"type":"line","stroke":"#1e90ff","strokeWidth":1},
 "encoding":{"x":{"field":"i","type":"quantitative","scale":{"domain":[-0.5,329],"nice":false,"zero":false},
   "axis":{"values":[0,16,32,48,64,80,96,112,128,144,160,176,192,208,224,240,256,272],"labelExpr":"['21 Jun 2017','26 Jun 08:00','29 Jun 00:00','3 Jul 16:00','6 Jul 08:00','11 Jul 00:00','13 Jul 16:00','18 Jul 08:00','21 Jul 00:00','25 Jul 16:00','28 Jul 08:00','2 Aug 00:00','4 Aug 16:00','9 Aug 08:00','14 Aug 00:00','16 Aug 16:00','21 Aug 08:00','24 Aug 00:00'][round(datum.value/16)]","labelAlign":"left","labelOffset":-2,"labelPadding":2,"tickSize":4,"labelFontSize":10,"labelFlush":false,"labelOverlap":false,"labelBound":false}},
 "y":{"field":"v","type":"quantitative","scale":{"domain":[0,100],"nice":false,"zero":false},
   "axis":{"orient":"right","values":[0,30,70,100],"labels":false,"tickSize":4}}}},
{"data":{"values":[{"v":30},{"v":70}]},"mark":{"type":"rule","stroke":"#c0c0c0","strokeWidth":1,"strokeDash":[3,3]},
 "encoding":{"y":{"field":"v","type":"quantitative"}}},
{"data":{"values":[{"v":30},{"v":70}]},"mark":{"type":"text","align":"left","baseline":"middle","fontSize":10,"fill":"#000000"},
 "encoding":{"x":{"datum":330.8,"type":"quantitative"},"y":{"field":"v","type":"quantitative"},"text":{"field":"v","type":"quantitative"}}},
{"data":{"values":[{"t":"100"}]},"mark":{"type":"text","align":"left","baseline":"top","dy":1,"fontSize":10,"fill":"#000000"},
 "encoding":{"x":{"datum":330.8,"type":"quantitative"},"y":{"datum":100,"type":"quantitative"},"text":{"field":"t"}}},
{"data":{"values":[{"t":"0"}]},"mark":{"type":"text","align":"left","baseline":"bottom","dy":-2,"fontSize":10,"fill":"#000000"},
 "encoding":{"x":{"datum":330.8,"type":"quantitative"},"y":{"datum":0,"type":"quantitative"},"text":{"field":"t"}}},
{"data":{"values":[{"t":"RSI(14) 42.4325"}]},"mark":{"type":"text","align":"left","baseline":"middle","fontSize":10,"fill":"#000000"},
 "encoding":{"x":{"datum":0.3,"type":"quantitative"},"y":{"datum":92.7,"type":"quantitative"},"text":{"field":"t"}}},
{"data":{"values":[{"a":3.6,"b":60,"v1":29.4,"v2":-3.7}]},"mark":{"type":"rect","fill":"#e05a5a","fillOpacity":0.92,"stroke":"#f2a5a5","strokeWidth":2},
 "encoding":{"x":{"field":"a","type":"quantitative"},"x2":{"field":"b"},"y":{"field":"v1","type":"quantitative"},"y2":{"field":"v2"}}},
{"data":{"values":[{"t":"[   www.instaforex.com   ]"}]},"mark":{"type":"text","align":"center","baseline":"middle","fontSize":20,"fill":"#ffffff"},
 "encoding":{"x":{"datum":31.8,"type":"quantitative"},"y":{"datum":11.9,"type":"quantitative"},"text":{"field":"t"}}}
]}
]
}
